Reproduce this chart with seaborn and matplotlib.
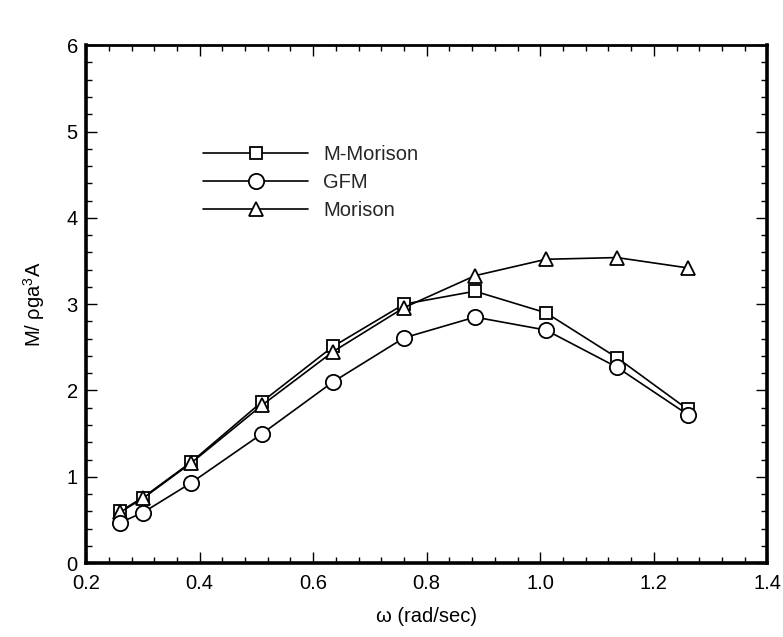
import matplotlib
matplotlib.use("Agg")
import matplotlib.pyplot as plt
from matplotlib.ticker import MultipleLocator, FormatStrFormatter
import seaborn as sns

omega = [0.26, 0.30, 0.385, 0.51, 0.635, 0.76, 0.885, 1.01, 1.135, 1.26]
m_morison = [0.60, 0.76, 1.17, 1.87, 2.51, 3.00, 3.15, 2.90, 2.38, 1.78]
gfm = [0.47, 0.585, 0.93, 1.50, 2.10, 2.61, 2.85, 2.70, 2.27, 1.72]
morison = [0.59, 0.75, 1.16, 1.83, 2.45, 2.96, 3.33, 3.52, 3.54, 3.42]

sns.set_theme(style="ticks")
plt.rcParams['font.family'] = ['Liberation Sans', 'DejaVu Sans']
plt.rcParams['mathtext.fontset'] = 'custom'
plt.rcParams['mathtext.rm'] = 'Liberation Sans'

fig = plt.figure(figsize=(7.83, 6.37), dpi=100)
ax = fig.add_axes([0.110, 0.116, 0.870, 0.813])

common = dict(color='black', linewidth=1.2, markerfacecolor='white',
              markeredgecolor='black', markeredgewidth=1.3, ax=ax)
sns.lineplot(x=omega, y=m_morison, marker='s', markersize=9, label='M-Morison', zorder=3, **common)
sns.lineplot(x=omega, y=morison, marker='^', markersize=9.5, label='Morison', zorder=4, **common)
sns.lineplot(x=omega, y=gfm, marker='o', markersize=11, label='GFM', zorder=5, **common)

ax.set_xlim(0.2, 1.4)
ax.set_ylim(0, 6)
ax.xaxis.set_major_locator(MultipleLocator(0.2))
ax.xaxis.set_minor_locator(MultipleLocator(0.04))
ax.yaxis.set_major_locator(MultipleLocator(1))
ax.yaxis.set_minor_locator(MultipleLocator(0.2))
ax.xaxis.set_major_formatter(FormatStrFormatter('%.1f'))
ax.yaxis.set_major_formatter(FormatStrFormatter('%d'))

ax.tick_params(which='both', direction='in', top=True, right=True, colors='black',
               labelsize=14.5, width=1.0)
ax.tick_params(which='major', length=8)
ax.tick_params(axis='x', which='major', pad=8)
ax.tick_params(axis='y', which='major', pad=6)
ax.tick_params(which='minor', length=4)
for s in ['left', 'bottom', 'right']:
    ax.spines[s].set_linewidth(2.6)
ax.spines['top'].set_linewidth(2.0)
for s in ax.spines.values():
    s.set_color('black')

ax.set_xlabel('ω (rad/sec)', fontsize=14.5, labelpad=10, color='black')
ax.set_ylabel('M/ ρga$^3$A', fontsize=14.5, labelpad=14, color='black')

handles, labels = ax.get_legend_handles_labels()
order = [labels.index(l) for l in ['M-Morison', 'GFM', 'Morison']]
ax.legend([handles[i] for i in order], [labels[i] for i in order],
          loc='upper left', bbox_to_anchor=(0.172, 0.808), frameon=False,
          fontsize=14.5, handlelength=5.2, handletextpad=0.75, labelspacing=0.45,
          borderpad=0, borderaxespad=0)

fig.savefig('out.png', dpi=100, facecolor='white')
